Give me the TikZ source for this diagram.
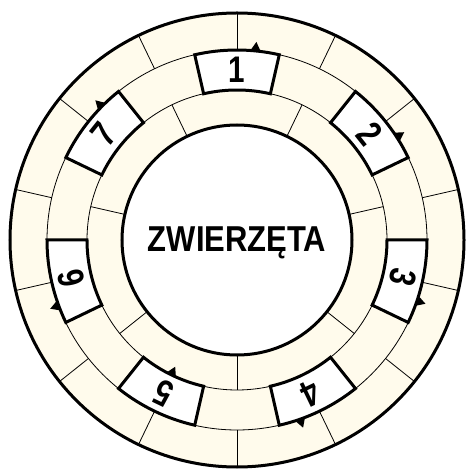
\documentclass[tikz,border=0pt]{standalone}
\usepackage{fontspec}
\newfontfamily\condfont{Liberation Sans}[FakeStretch=0.86]
\newfontfamily\digitfont{Liberation Sans}[FakeStretch=0.8]
\definecolor{cream}{RGB}{255,251,236}
\begin{document}
\begin{tikzpicture}[x=1pt,y=1pt,
  thinline/.style={line width=0.8pt,black},
  thickline/.style={line width=3pt,black},
  boxstyle/.style={line width=3pt,black,fill=white,line join=miter},
  numstyle/.style={font=\digitfont\bfseries\fontsize{37}{37}\selectfont,inner sep=0pt},
  titlestyle/.style={font=\condfont\bfseries\fontsize{36}{36}\selectfont,inner sep=0pt},
  tri/.style={fill=black}]
\useasboundingbox (-237,-230) rectangle (230,240);
% cream disk
\fill[cream] (0,0) circle[radius=227];
% thin ring circles
\draw[thinline] (0,0) circle[radius=190];
\draw[thinline] (0,0) circle[radius=150];
% outer ring dividers (14)
\foreach \k in {0,...,13}{
  \draw[thinline] (90+\k*25.7143:190) -- (90+\k*25.7143:227);
}
% inner ring dividers (7)
\foreach \k in {0,...,6}{
  \draw[thinline] (64.2857-\k*51.4286:115) -- (64.2857-\k*51.4286:150);
}
% boxes
\foreach \a/\n in {90/1,38.5714/2,-12.8571/3,-64.2857/4,-115.7143/5,-167.1429/6,141.4286/7}{
  \draw[boxstyle] (\a-12.857:150) arc[start angle=\a-12.857, end angle=\a+12.857, radius=150]
     -- (\a+12.857:190) arc[start angle=\a+12.857, end angle=\a-12.857, radius=190] -- cycle;
  \node[numstyle, rotate=\a-90] (d\n) at (\a:170) {\n};
}
% centre disk
\draw[thickline,fill=white] (0,0) circle[radius=115];
\node[titlestyle] (title) at (0,-2.5) {ZWIERZĘTA};
% outer circle
\draw[thickline] (0,0) circle[radius=227];
% triangles
\foreach \a/\r/\d in {84.4/191/84.4, 32.8/191/32.8, -18.7/191/-18.7, -70.6/191/-70.6, -116/149/64, 200.2/191/200.2, 135.4/191/135.4}{
  \begin{scope}[shift={(\a:\r)}, rotate=\d]
    \fill[tri] (0,4.6) -- (0,-4.6) -- (8,0) -- cycle;
  \end{scope}
}
\end{tikzpicture}
\end{document}
